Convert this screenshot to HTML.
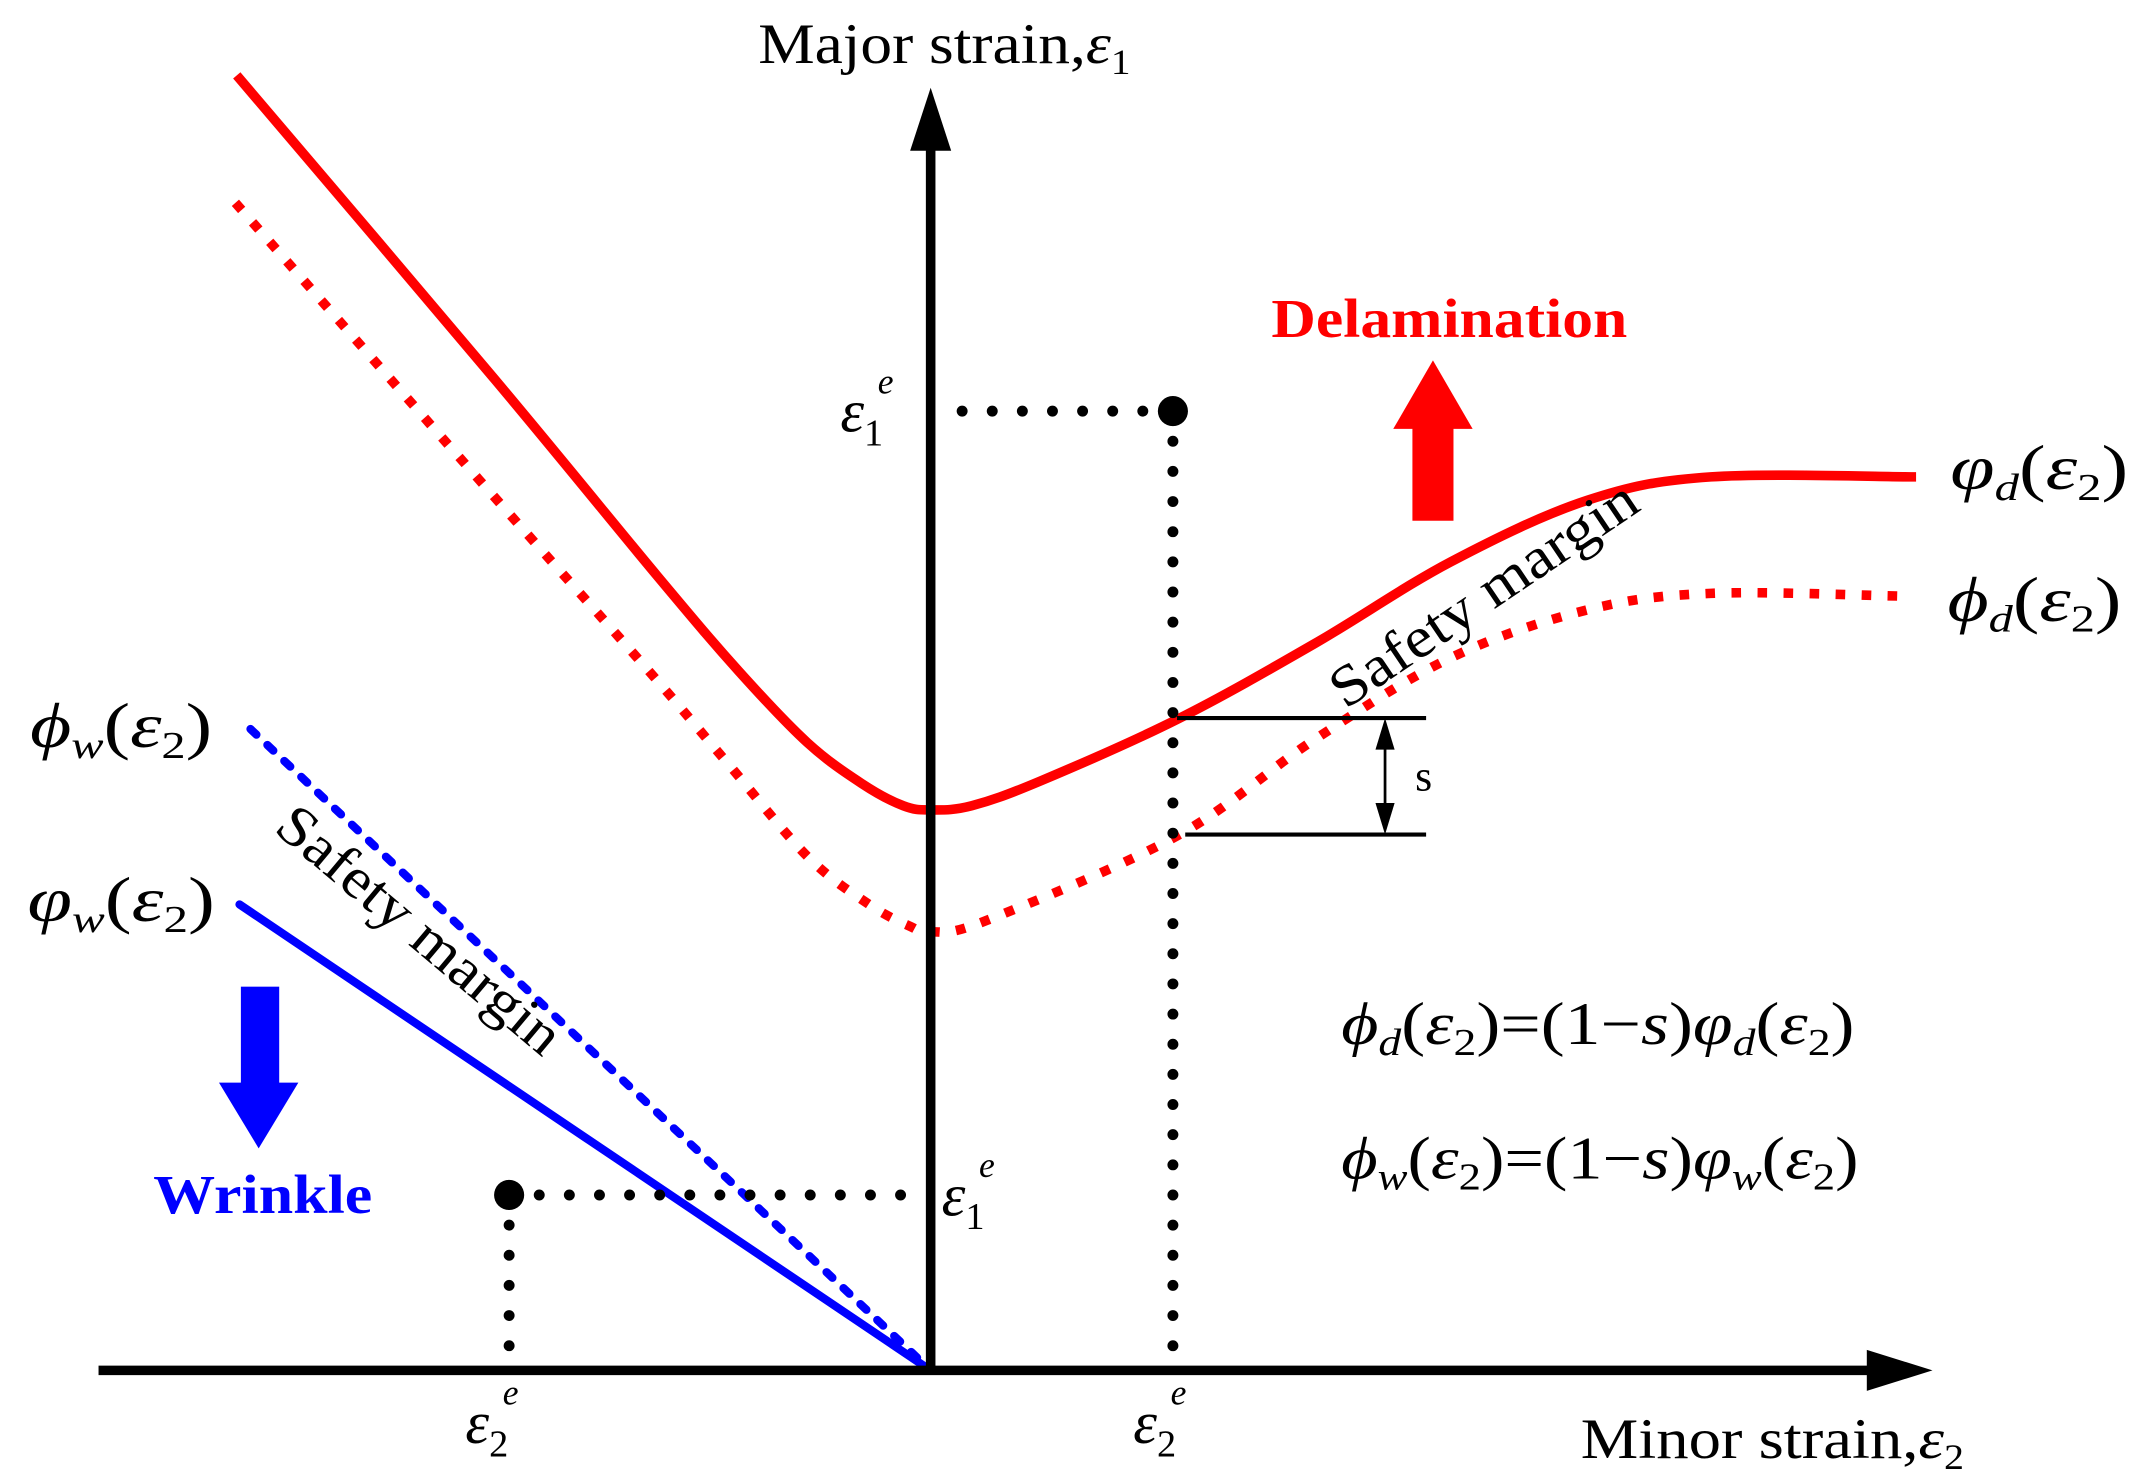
<!DOCTYPE html>
<html><head><meta charset="utf-8"><style>
html,body{margin:0;padding:0;background:#fff;width:2146px;height:1480px;overflow:hidden}
svg{display:block}
text{font-family:"Liberation Serif",serif}
</style></head><body>
<svg id="chart" width="2146" height="1480" viewBox="0 0 1568 1080" preserveAspectRatio="none" xmlns="http://www.w3.org/2000/svg">
<g id="marks"></g>
<line x1="72" y1="1000" x2="1370" y2="1000" stroke="#000" stroke-width="7"/>
<polygon points="1364,985 1412,1000 1364,1015" fill="#000"/>
<line x1="680" y1="1000" x2="680" y2="105" stroke="#000" stroke-width="7"/>
<polygon points="665,110 680,64 695,110" fill="#000"/>
<text x="554" y="46" font-size="42" textLength="272" lengthAdjust="spacingAndGlyphs">Major strain,<tspan font-style="italic">ε</tspan><tspan font-size="26" dy="8">1</tspan></text>
<text x="1155" y="1064" font-size="42" textLength="280" lengthAdjust="spacingAndGlyphs">Minor strain,<tspan font-style="italic">ε</tspan><tspan font-size="26" dy="8">2</tspan></text>
<line x1="860" y1="524" x2="1042" y2="524" stroke="#000" stroke-width="3"/>
<line x1="866" y1="609" x2="1042" y2="609" stroke="#000" stroke-width="3"/>
<line x1="1012" y1="530" x2="1012" y2="603" stroke="#000" stroke-width="2"/>
<polygon points="1005,547 1012,524 1019,547" fill="#000"/>
<polygon points="1005,586 1012,609 1019,586" fill="#000"/>
<text x="1034" y="577" font-size="32">s</text>
<rect x="1032" y="310" width="30" height="70" fill="#f00"/>
<polygon points="1018,313 1047,263 1076,313" fill="#f00"/>
<text x="929" y="246" font-size="40" font-weight="bold" fill="#f00" textLength="260" lengthAdjust="spacingAndGlyphs">Delamination</text>
<rect x="176" y="720" width="28" height="72" fill="#00f"/>
<polygon points="160,790 189,838 218,790" fill="#00f"/>
<text x="112" y="885" font-size="40" font-weight="bold" fill="#00f" textLength="160" lengthAdjust="spacingAndGlyphs">Wrinkle</text>
<text font-size="42" transform="translate(983,518) rotate(-34)" textLength="262" lengthAdjust="spacingAndGlyphs">Safety margin</text>
<text font-size="42" transform="translate(199,606) rotate(40)" textLength="258" lengthAdjust="spacingAndGlyphs">Safety margin</text>
<text x="1425" y="357" font-size="46" textLength="130" lengthAdjust="spacingAndGlyphs"><tspan font-style="italic">φ</tspan><tspan font-size="28" dy="8" font-style="italic">d</tspan><tspan dy="-8">(</tspan><tspan font-style="italic">ε</tspan><tspan font-size="28" dy="8">2</tspan><tspan dy="-8">)</tspan></text>
<text x="1423" y="453" font-size="46" textLength="127" lengthAdjust="spacingAndGlyphs"><tspan font-style="italic">ϕ</tspan><tspan font-size="28" dy="8" font-style="italic">d</tspan><tspan dy="-8">(</tspan><tspan font-style="italic">ε</tspan><tspan font-size="28" dy="8">2</tspan><tspan dy="-8">)</tspan></text>
<text x="22" y="545" font-size="46" textLength="133" lengthAdjust="spacingAndGlyphs"><tspan font-style="italic">ϕ</tspan><tspan font-size="28" dy="8" font-style="italic">w</tspan><tspan dy="-8">(</tspan><tspan font-style="italic">ε</tspan><tspan font-size="28" dy="8">2</tspan><tspan dy="-8">)</tspan></text>
<text x="20" y="672" font-size="46" textLength="137" lengthAdjust="spacingAndGlyphs"><tspan font-style="italic">φ</tspan><tspan font-size="28" dy="8" font-style="italic">w</tspan><tspan dy="-8">(</tspan><tspan font-style="italic">ε</tspan><tspan font-size="28" dy="8">2</tspan><tspan dy="-8">)</tspan></text>
<text x="614" y="315" font-size="44" font-style="italic">ε<tspan font-size="28" font-style="normal" dy="10">1</tspan><tspan font-size="26" dx="-4" dy="-38">e</tspan></text>
<text x="688" y="887" font-size="44" font-style="italic">ε<tspan font-size="28" font-style="normal" dy="10">1</tspan><tspan font-size="26" dx="-4" dy="-38">e</tspan></text>
<text x="340" y="1053" font-size="44" font-style="italic">ε<tspan font-size="28" font-style="normal" dy="10">2</tspan><tspan font-size="26" dx="-4" dy="-38">e</tspan></text>
<text x="828" y="1053" font-size="44" font-style="italic">ε<tspan font-size="28" font-style="normal" dy="10">2</tspan><tspan font-size="26" dx="-4" dy="-38">e</tspan></text>
<text x="980" y="762" font-size="44" textLength="375" lengthAdjust="spacingAndGlyphs"><tspan font-style="italic">ϕ</tspan><tspan font-size="28" dy="8" font-style="italic">d</tspan><tspan dy="-8">(</tspan><tspan font-style="italic">ε</tspan><tspan font-size="28" dy="8">2</tspan><tspan dy="-8">)=(1−</tspan><tspan font-style="italic">s</tspan><tspan>)</tspan><tspan font-style="italic">φ</tspan><tspan font-size="28" dy="8" font-style="italic">d</tspan><tspan dy="-8">(</tspan><tspan font-style="italic">ε</tspan><tspan font-size="28" dy="8">2</tspan><tspan dy="-8">)</tspan></text>
<text x="980" y="860" font-size="44" textLength="378" lengthAdjust="spacingAndGlyphs"><tspan font-style="italic">ϕ</tspan><tspan font-size="28" dy="8" font-style="italic">w</tspan><tspan dy="-8">(</tspan><tspan font-style="italic">ε</tspan><tspan font-size="28" dy="8">2</tspan><tspan dy="-8">)=(1−</tspan><tspan font-style="italic">s</tspan><tspan>)</tspan><tspan font-style="italic">φ</tspan><tspan font-size="28" dy="8" font-style="italic">w</tspan><tspan dy="-8">(</tspan><tspan font-style="italic">ε</tspan><tspan font-size="28" dy="8">2</tspan><tspan dy="-8">)</tspan></text>
</svg>
<script>
const delamX   = [-507, -320, -200, -140, -90, -50, -20, 0, 30, 80, 180, 280, 380, 480, 570, 720];
const delamY   = [945, 725, 580, 510, 458, 428, 412, 409, 412, 430, 475, 530, 590, 635, 652, 652];
const delamSafeX = [-508, -330, -210, -150, -90, -45, -15, 0, 40, 180, 280, 380, 480, 570, 710];
const delamSafeY = [852, 650, 515, 445, 375, 340, 324, 320, 328, 390, 460, 520, 555, 567, 565];
const wrinkleX = [-505, 0];
const wrinkleY = [340, 0];
const wrinkleSafeX = [-497, 0];
const wrinkleSafeY = [468, 0];
const pointUpper = [177, 700];
const pointLower = [-308, 128];

const X0 = 680, Y0 = 1000;
function sx(v){ return X0 + v; }
function sy(v){ return Y0 - v; }
const NS = 'http://www.w3.org/2000/svg';
const g = document.getElementById('marks');

function smoothPath(xs, ys){
  const p = xs.map((x,i)=>[sx(x), sy(ys[i])]);
  let d = 'M' + p[0][0] + ',' + p[0][1];
  for (let i=0;i<p.length-1;i++){
    const p0=p[i-1]||p[i], p1=p[i], p2=p[i+1], p3=p[i+2]||p2;
    const c1x=p1[0]+(p2[0]-p0[0])/6, c1y=p1[1]+(p2[1]-p0[1])/6;
    const c2x=p2[0]-(p3[0]-p1[0])/6, c2y=p2[1]-(p3[1]-p1[1])/6;
    d += ' C'+c1x+','+c1y+' '+c2x+','+c2y+' '+p2[0]+','+p2[1];
  }
  return d;
}
function addPath(d, stroke, w, dash, cap){
  const el = document.createElementNS(NS,'path');
  el.setAttribute('d', d);
  el.setAttribute('fill','none');
  el.setAttribute('stroke', stroke);
  el.setAttribute('stroke-width', w);
  if (dash) el.setAttribute('stroke-dasharray', dash);
  el.setAttribute('stroke-linecap', cap || 'butt');
  g.appendChild(el);
  return el;
}
let el;
el = addPath(smoothPath(delamX, delamY), '#f00', 7);


el = addPath(smoothPath(delamSafeX, delamSafeY), '#f00', 7, '7 12');


el = addPath(smoothPath(wrinkleX, wrinkleY), '#00f', 6, null, 'round');


el = addPath(smoothPath(wrinkleSafeX, wrinkleSafeY), '#00f', 6, '6 11', 'round');



function guides(pt, dir, name){
  const px = sx(pt[0]), py = sy(pt[1]);
  let h = addPath('M'+(px + (dir>0?-22:22))+','+py+' L'+ (dir>0 ? X0+20 : X0-15) +','+py, '#000', 8, '0 22', 'round');
  
  
  let v = addPath('M'+px+','+(py+22)+' L'+px+','+(Y0-10), '#000', 8, '0 22', 'round');
  
  
  const c = document.createElementNS(NS,'circle');
  c.setAttribute('cx', px); c.setAttribute('cy', py); c.setAttribute('r', 11);
  c.setAttribute('fill', '#000');
  
  
  g.appendChild(c);
}
guides(pointUpper, 1, 'upper-strain');
guides(pointLower, -1, 'lower-strain');
</script>
</body></html>
